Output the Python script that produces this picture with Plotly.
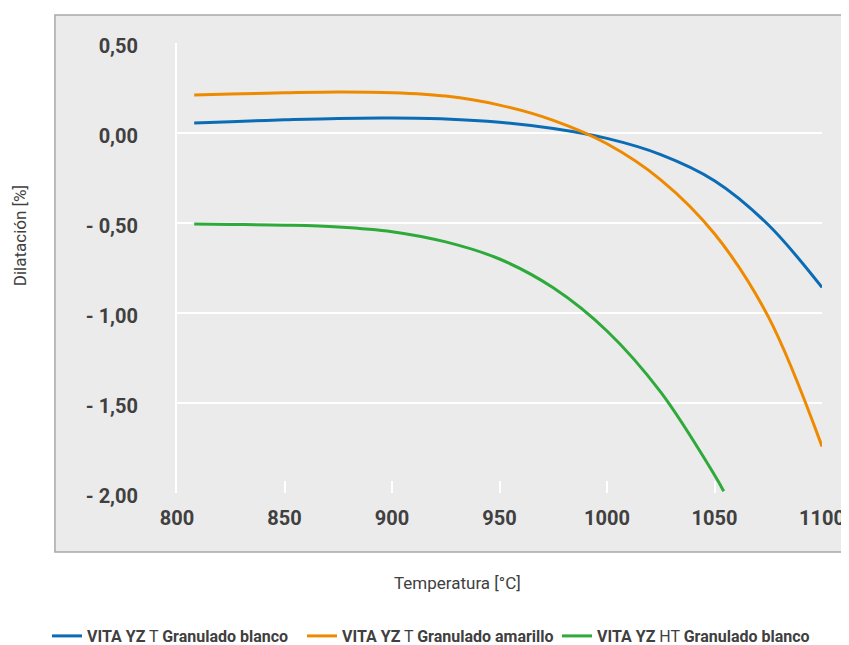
import plotly.graph_objects as go

# ---- data ----
temps = [808, 825, 850, 875, 900, 925, 950, 975, 1000, 1025, 1050, 1075, 1100]
dil_blue = [0.056, 0.063, 0.073, 0.081, 0.083, 0.078, 0.060, 0.025, -0.030, -0.120, -0.265, -0.51, -0.858]
dil_orange = [0.211, 0.216, 0.223, 0.228, 0.224, 0.205, 0.155, 0.070, -0.060, -0.260, -0.560, -1.02, -1.741]

temp_green = [808, 825, 850, 875, 900, 925, 950, 975, 1000, 1025, 1050, 1054.3]
dil_green = [-0.506, -0.508, -0.512, -0.522, -0.548, -0.605, -0.70, -0.86, -1.10, -1.44, -1.90, -1.99]

series_names = [
    "<b>VITA YZ</b> T <b>Granulado blanco</b>",
    "<b>VITA YZ</b> T <b>Granulado amarillo</b>",
    "<b>VITA YZ</b> HT <b>Granulado blanco</b>",
]
series_colors = ["#0a6cb5", "#ee8a00", "#2eaa3a"]

x_tickvals = [800, 850, 900, 950, 1000, 1050, 1100]
x_ticktext = ["800", "850", "900", "950", "1000", "1050", "1100"]
y_tickvals = [0.5, 0.0, -0.5, -1.0, -1.5, -2.0]
y_ticktext = ["0,50", "0,00", "- 0,50", "- 1,00", "- 1,50", "- 2,00"]

x_title = "Temperatura [°C]"
y_title = "Dilatación [%]"

# ---- figure ----
W, H = 849, 670   # page body margin (8px) hides the bottom of the figure
OFF = 8
# target plot area in window pixels: x 177..827, y 43..493
ML = 177 - OFF
MT = 43 - OFF
PW = 650
PH = 450
MR = W - ML - PW
MB = H - MT - PH


def px_x(p):
    return (p - OFF - ML) / PW


def px_y(p):
    return (MT + PH - (p - OFF)) / PH


fig = go.Figure()
for xs, ys, name, col in zip(
    [temps, temps, temp_green],
    [dil_blue, dil_orange, dil_green],
    series_names,
    series_colors,
):
    fig.add_trace(
        go.Scatter(
            x=xs, y=ys, name=name, mode="lines",
            line=dict(color=col, width=3, shape="spline", smoothing=1.0),
        )
    )

panel = "#ebebeb"
txt = "#404040"

fig.update_layout(
    width=W, height=H, autosize=False,
    margin=dict(l=ML, r=MR, t=MT, b=MB),
    paper_bgcolor="white",
    plot_bgcolor=panel,
    font=dict(family="Roboto", color=txt),
    showlegend=True,
    legend=dict(
        orientation="h",
        x=px_x(46), xanchor="left",
        y=px_y(636), yanchor="middle",
        font=dict(family="Roboto", size=16, color=txt),
        bgcolor="rgba(0,0,0,0)",
        itemwidth=30,
        entrywidth=210, entrywidthmode="pixels",
    ),
    shapes=[
        dict(
            type="rect", xref="paper", yref="paper", layer="below",
            x0=px_x(54), x1=px_x(900), y0=px_y(552), y1=px_y(15),
            fillcolor=panel, line=dict(color="#a8a8a8", width=1.5),
        )
    ],
    annotations=[
        dict(
            text=x_title, xref="paper", yref="paper",
            x=px_x(459.5), y=px_y(583), xanchor="center", yanchor="middle",
            showarrow=False, font=dict(family="Roboto", size=17, color=txt),
        ),
        dict(
            text=y_title, xref="paper", yref="paper", textangle=-90,
            x=px_x(19), y=px_y(236), xanchor="center", yanchor="middle",
            showarrow=False, font=dict(family="Roboto", size=17, color=txt),
        ),
    ],
)

fig.update_xaxes(
    range=[800, 1100], tickvals=x_tickvals, ticktext=x_ticktext,
    showgrid=False, zeroline=False, showline=False,
    ticks="inside", ticklen=12, tickwidth=1.5, tickcolor="white",
    tickfont=dict(family="Roboto", size=20, color=txt, weight="bold"),
    ticklabelstandoff=11, ticklabeloverflow="allow",
)
fig.update_yaxes(
    range=[-2.0, 0.5], tickvals=y_tickvals, ticktext=y_ticktext,
    showgrid=True, gridcolor="white", gridwidth=1.5, zeroline=False,
    showline=True, linecolor="white", linewidth=2,
    ticks="",
    tickfont=dict(family="Roboto", size=20, color=txt, weight="bold"),
    ticklabelstandoff=33, ticklabelshift=3,
)

fig.write_html("out.html")
